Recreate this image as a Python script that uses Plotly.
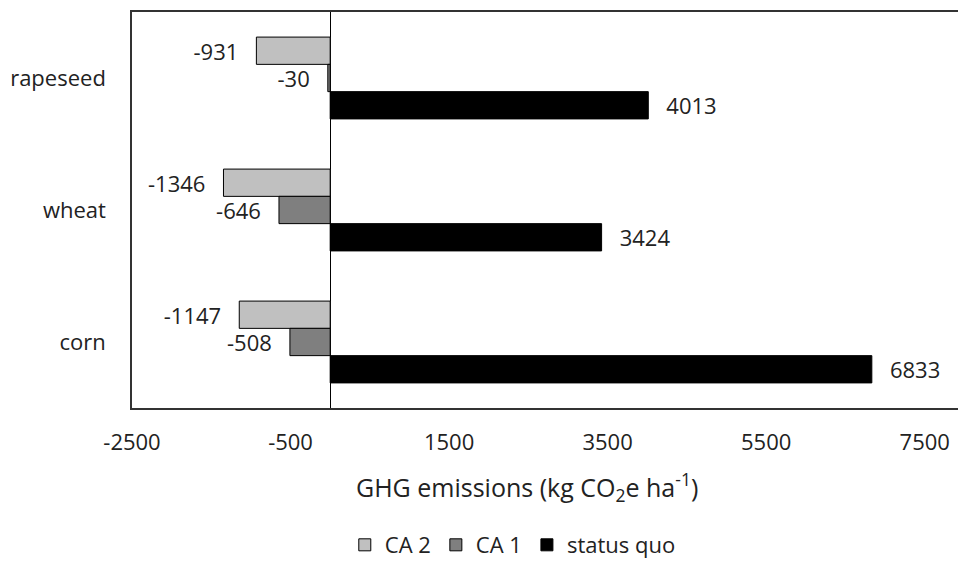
import plotly.graph_objects as go

crops = ["rapeseed", "wheat", "corn"]
ca2 = [-931, -1346, -1147]
ca1 = [-30, -646, -508]
status_quo = [4013, 3424, 6833]
tick_values = [-2500, -500, 1500, 3500, 5500, 7500]
tick_labels = ["-2500", "-500", "1500", "3500", "5500", "7500"]

series = [
    ("CA 2", ca2, "#c0c0c0"),
    ("CA 1", ca1, "#7f7f7f"),
    ("status quo", status_quo, "#000000"),
]

FONT = "Open Sans"
pad = "\u00a0\u00a0\u2009"

fig = go.Figure()
for name, vals, color in series:
    texts = [(f"{v}{pad}" if v < 0 else f"{pad}{v}") for v in vals]
    fig.add_trace(go.Bar(
        y=crops, x=vals, name=name, orientation="h",
        marker=dict(color=color, line=dict(color="#000000", width=1)),
        text=texts, textposition="outside", constraintext="none",
        cliponaxis=False,
        textfont=dict(family=FONT, size=22, color="#222222"),
    ))

fig.add_annotation(
    text="GHG emissions (kg CO<sub>2</sub>e ha<sup>-1</sup>)",
    xref="paper", yref="paper", x=0.478, y=-0.2, xanchor="center", yanchor="middle",
    showarrow=False, font=dict(family=FONT, size=25, color="#222222"),
)

fig.update_layout(
    width=959, height=570,
    margin=dict(l=132, r=1, t=12, b=162),
    paper_bgcolor="white", plot_bgcolor="white",
    barmode="group", bargap=0.38, bargroupgap=0,
    font=dict(family=FONT, size=22, color="#222222"),
    showlegend=True,
    legend=dict(orientation="h", x=0.461, xanchor="center", y=-0.346, yanchor="middle",
                font=dict(family=FONT, size=22, color="#222222"), traceorder="normal",
                itemwidth=30),
    xaxis=dict(
        range=[-2500, 7920], tickvals=tick_values, ticktext=tick_labels,
        showgrid=False, zeroline=True, zerolinecolor="#000000", zerolinewidth=1,
        showline=True, linecolor="#333333", linewidth=1.5, mirror=True,
        ticks="", ticklabelstandoff=14,
        tickfont=dict(family=FONT, size=22, color="#222222"),
    ),
    yaxis=dict(
        autorange="reversed", showgrid=False,
        showline=True, linecolor="#333333", linewidth=1.5, mirror=False,
        ticks="", ticklabelstandoff=20,
        tickfont=dict(family=FONT, size=22, color="#222222"),
    ),
)

fig.write_html("out.html", config={"displayModeBar": False},
               post_script="document.body.style.margin='0';")
